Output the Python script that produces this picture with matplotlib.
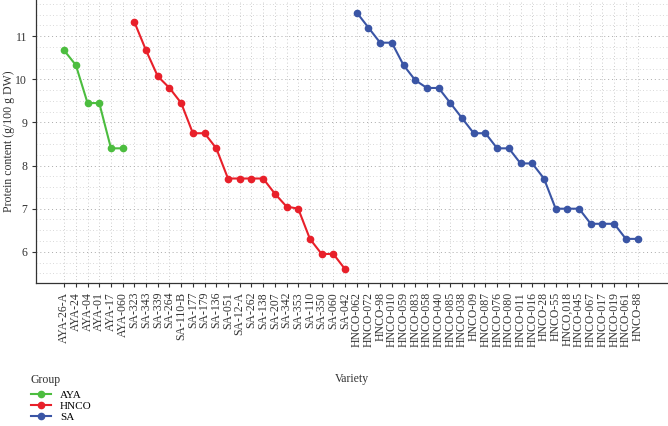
import numpy as np
import matplotlib
matplotlib.use("Agg")
import matplotlib.pyplot as plt
from matplotlib.ticker import MultipleLocator

plt.rcParams['font.family'] = ['Liberation Serif', 'DejaVu Serif']

# data
aya_names = ['AYA-26-A', 'AYA-24', 'AYA-04', 'AYA-01', 'AYA-17', 'AYA-060']
aya_vals = [10.67, 10.33, 9.45, 9.45, 8.4, 8.4]

red_names = ['SA-323', 'SA-343', 'SA-339', 'SA-264', 'SA-110-B', 'SA-177', 'SA-179',
             'SA-136', 'SA-051', 'SA-12-A', 'SA-262', 'SA-138', 'SA-207', 'SA-342',
             'SA-353', 'SA-110', 'SA-350', 'SA-060', 'SA-042']
red_vals = [11.33, 10.67, 10.07, 9.8, 9.45, 8.75, 8.75, 8.4, 7.7, 7.7, 7.7, 7.7,
            7.35, 7.05, 7.0, 6.3, 5.95, 5.95, 5.6]

blue_names = ['HNCO-062', 'HNCO-072', 'HNCO-98', 'HNCO-010', 'HNCO-059', 'HNCO-083',
              'HNCO-058', 'HNCO-040', 'HNCO-085', 'HNCO-038', 'HNCO-09', 'HNCO-087',
              'HNCO-076', 'HNCO-080', 'HNCO-011', 'HNCO-016', 'HNCO-28', 'HNCO-55',
              'HNCO,018', 'HNCO-045', 'HNCO-067', 'HNCO-017', 'HNCO-019', 'HNCO-061',
              'HNCO-88']
blue_vals = [11.55, 11.2, 10.85, 10.85, 10.33, 9.98, 9.8, 9.8, 9.45, 9.1, 8.75, 8.75,
             8.4, 8.4, 8.05, 8.05, 7.7, 7.0, 7.0, 7.0, 6.65, 6.65, 6.65, 6.3, 6.3]

groups = ['AYA', 'HNCO', 'SA']
colors = ['#4cbd3f', '#e8202a', '#3a55a5']

all_names = aya_names + red_names + blue_names
x_aya = np.arange(len(aya_names))
x_red = np.arange(len(red_names)) + len(aya_names)
x_blue = np.arange(len(blue_names)) + len(aya_names) + len(red_names)

fig = plt.figure(figsize=(6.68, 4.26), dpi=100)
ax = fig.add_axes([0.054, 0.336, 0.946, 0.664])

for xs, ys, c, g in zip([x_aya, x_red, x_blue], [aya_vals, red_vals, blue_vals], colors, groups):
    ax.plot(xs, ys, '-o', color=c, lw=1.5, ms=4.5, label=g)

ax.set_xlim(-2.4, len(all_names) - 1 + 2.6)
ax.set_ylim(5.28, 11.84)
ax.set_xticks(np.arange(len(all_names)))
ax.set_xticklabels(all_names, rotation=90, fontsize=8.5, color='#333333')
ax.yaxis.set_major_locator(MultipleLocator(1))
ax.yaxis.set_minor_locator(MultipleLocator(0.25))
ax.tick_params(axis='y', which='minor', length=0)
ax.tick_params(axis='both', which='major', length=3, color='#333333', labelcolor='#333333')
ax.tick_params(axis='y', labelsize=8.5)

ax.grid(True, axis='x', which='major', ls=(0, (1, 3)), color='#bbbbbb', lw=0.6)
ax.grid(True, axis='y', which='major', ls=(0, (1, 3)), color='#aaaaaa', lw=0.7)
ax.grid(True, axis='y', which='minor', ls=(0, (1, 3)), color='#cccccc', lw=0.6)
ax.set_axisbelow(True)

for s in ['top', 'right']:
    ax.spines[s].set_visible(False)
for s in ['left', 'bottom']:
    ax.spines[s].set_color('#333333')
    ax.spines[s].set_linewidth(0.9)

ax.set_ylabel('Protein content (g/100 g DW)', fontsize=8.5, color='#333333')
ax.yaxis.set_label_coords(-0.033, 0.5)
ax.set_xlabel('Variety', fontsize=8.5, color='#333333')
ax.xaxis.set_label_coords(0.5, -0.32)

leg = fig.legend(loc='upper left', bbox_to_anchor=(0.038, 0.135), frameon=False,
                 title='Group', fontsize=8, title_fontsize=8.5, handlelength=1.8,
                 labelspacing=0.12, borderpad=0, handletextpad=0.8)
leg._legend_box.align = 'left'
leg._legend_box.sep = 3
leg.get_title().set_color('#333333')

fig.savefig('out.png', dpi=100)
